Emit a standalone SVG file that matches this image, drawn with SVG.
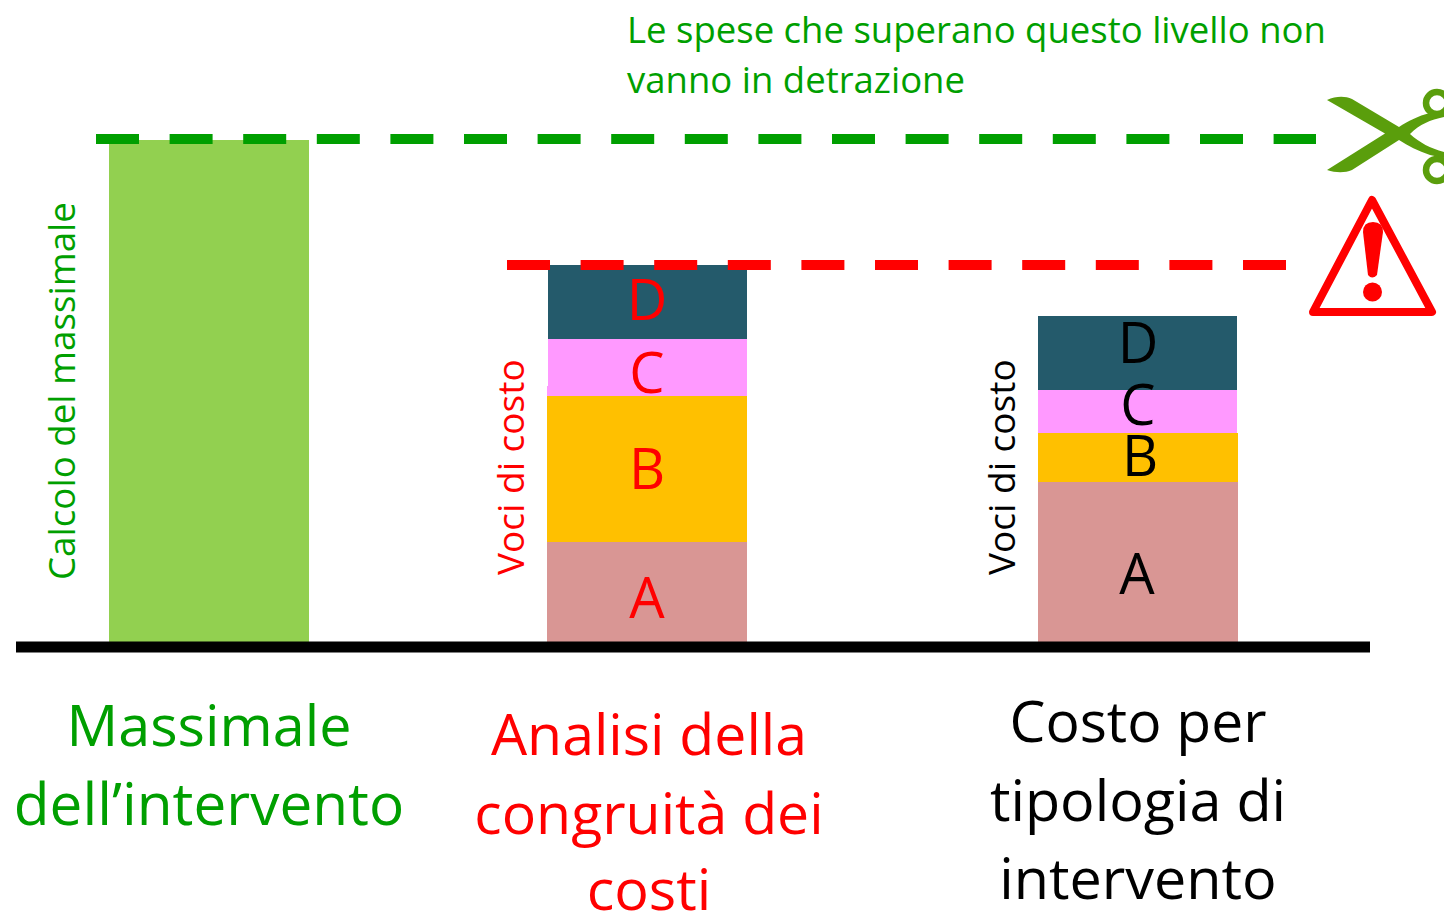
<svg xmlns="http://www.w3.org/2000/svg" width="1444" height="913" viewBox="0 0 1444 913">
<style>
text{font-family:"Open Sans","Noto Sans","Liberation Sans",sans-serif}
.big{font-size:57.5px;text-anchor:middle}
.bar{font-size:56px;text-anchor:middle}
.side{font-size:37px}
.note{font-size:36.5px;fill:#009f00}
.g{fill:#009f00}.r{fill:#f00}.k{fill:#000}
.dash{stroke-width:10;stroke-dasharray:43 30.6}
</style>
<rect width="1444" height="913" fill="#fff"/>
<g id="massimale">
<rect x="109" y="140" width="200" height="502" fill="#92d050"/>
<text class="side g" transform="translate(75,580) rotate(-90)" style="font-size:36.7px">Calcolo del massimale</text>
<text class="big g" x="209" y="746">Massimale</text>
<text class="big g" x="209" y="825" style="font-size:58.5px">dell’intervento</text>
</g>
<g id="congruita">
<rect x="547" y="542" width="200" height="100" fill="#d99694"/>
<rect x="547" y="396" width="200" height="146" fill="#ffc000"/>
<rect x="547" y="386" width="2" height="10" fill="#ff99ff"/>
<rect x="548" y="339" width="199" height="57" fill="#ff99ff"/>
<rect x="548" y="265" width="199" height="74" fill="#245a6b"/>
<text class="bar r" x="647" y="618">A</text>
<text class="bar r" x="647" y="489">B</text>
<text class="bar r" x="647" y="393">C</text>
<text class="bar r" x="647" y="320">D</text>
<text class="side r" transform="translate(524,575) rotate(-90)">Voci di costo</text>
<text class="big r" x="649" y="755" style="font-size:57.2px">Analisi della</text>
<text class="big r" x="649" y="834" style="font-size:57.2px">congruità dei</text>
<text class="big r" x="649" y="910">costi</text>
</g>
<g id="costo">
<rect x="1038" y="482" width="200" height="160" fill="#d99694"/>
<rect x="1038" y="433" width="200" height="49" fill="#ffc000"/>
<rect x="1038" y="390" width="199" height="43" fill="#ff99ff"/>
<rect x="1038" y="316" width="199" height="74" fill="#245a6b"/>
<text class="bar k" x="1137" y="594">A</text>
<text class="bar k" x="1140" y="476">B</text>
<text class="bar k" x="1138" y="425">C</text>
<text class="bar k" x="1138" y="363">D</text>
<text class="side k" transform="translate(1015,575) rotate(-90)">Voci di costo</text>
<text class="big k" x="1138" y="742" style="font-size:57px">Costo per</text>
<text class="big k" x="1138" y="821">tipologia di</text>
<text class="big k" x="1138" y="899">intervento</text>
</g>
<g id="limite-massimale">
<text class="note" x="627" y="43">Le spese che superano questo livello non</text>
<text class="note" x="627" y="93">vanno in detrazione</text>
</g>
<g id="connectors">
<line x1="16" y1="647" x2="1370" y2="647" stroke="#000" stroke-width="11"/>
<line class="dash" x1="96" y1="139" x2="1316" y2="139" stroke="#009f00"/>
<line class="dash" x1="507" y1="265" x2="1287" y2="265" stroke="#f00"/>
</g>
<g id="forbici">
<path fill="#5a9e0c" d="M1327 100C1336 96 1345 96 1352 99L1399 127C1408 121 1418 116 1430 113L1444 111V117C1430 120 1420 124 1410 134C1420 143 1430 148 1444 152V158L1430 155C1418 151 1408 146 1399 140L1352 170C1345 173 1336 173 1327 170L1385 133.500Z"/>
<g fill="none" stroke="#5a9e0c" stroke-width="6.500">
<circle cx="1437" cy="103" r="11"/>
<circle cx="1437" cy="170" r="11"/>
</g>
</g>
<g id="avviso">
<path d="M1372 200L1432 312H1313Z" fill="#fff" stroke="#f00" stroke-width="8" stroke-linejoin="round"/>
<path d="M1363 232Q1363 222 1373 222Q1383 222 1383 232L1377 275Q1372 280 1368 275Z" fill="#f00"/>
<circle cx="1372.500" cy="292" r="9.500" fill="#f00"/>
</g>
</svg>
